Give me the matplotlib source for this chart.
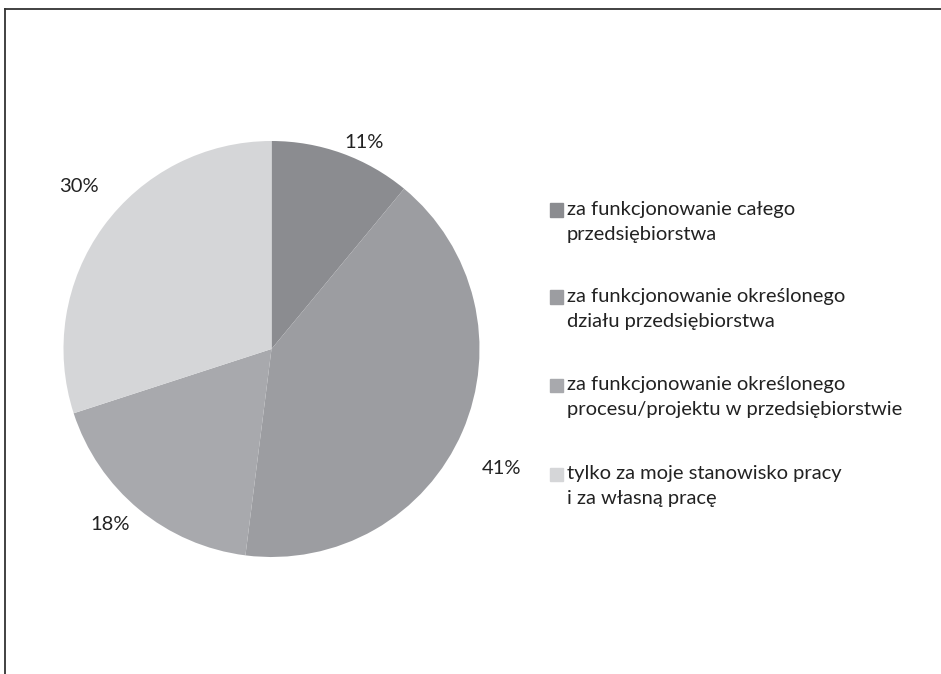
import matplotlib.pyplot as plt
from matplotlib.lines import Line2D
from matplotlib.patches import Rectangle

plt.rcParams['font.family'] = ['Lato', 'DejaVu Sans']

# dane
values = [11, 41, 18, 30]
labels = [
    'za funkcjonowanie całego\nprzedsiębiorstwa',
    'za funkcjonowanie określonego\ndziału przedsiębiorstwa',
    'za funkcjonowanie określonego\nprocesu/projektu w przedsiębiorstwie',
    'tylko za moje stanowisko pracy\ni za własną pracę',
]
colors = ['#8b8c90', '#9c9da1', '#a8a9ad', '#d5d6d8']

W, H = 941, 674
fig = plt.figure(figsize=(W / 100, H / 100), dpi=100)

# pie: center (271, 349) px, radius 208 px
cx, cy, r = 271.5, 349, 208
ax = fig.add_axes([(cx - r) / W, (H - cy - r) / H, 2 * r / W, 2 * r / H])
wedges, texts, autotexts = ax.pie(
    values, colors=colors, startangle=90, counterclock=False,
    autopct='%d%%', radius=1,
    wedgeprops=dict(linewidth=0),
    textprops=dict(fontsize=14.5, color='#222222'))
ax.set_xlim(-1, 1)
ax.set_ylim(-1, 1)
ax.set_aspect('equal')
ax.axis('off')

# położenie etykiet procentowych (piksele, jak w oryginale)
label_px = [(364, 142), (502, 468), (110, 524), (79, 186)]
for t, (px, py) in zip(autotexts, label_px):
    t.set_position(((px - cx) / r, (cy - py) / r))

# legenda (ręcznie, kwadrat przy pierwszej linii)
legend_y = [210, 297, 385, 474]
line_gap = 25
for y, lab, col in zip(legend_y, labels, colors):
    fig.patches.append(Rectangle((550 / W, (H - y - 6.5) / H), 13 / W, 13 / H,
                                 transform=fig.transFigure, color=col))
    for k, line in enumerate(lab.split('\n')):
        fig.text(567 / W, (H - y - 5 - k * line_gap) / H, line, fontsize=14.5,
                 color='#222222', va='baseline', ha='left')

# ramka
fig.add_artist(Line2D([4.5 / W, 1], [(H - 8.5) / H] * 2, transform=fig.transFigure,
                      color='#333333', linewidth=1.3))
fig.add_artist(Line2D([4.5 / W] * 2, [0, (H - 8.5) / H], transform=fig.transFigure,
                      color='#333333', linewidth=1.3))

fig.savefig('out.png', dpi=100)
